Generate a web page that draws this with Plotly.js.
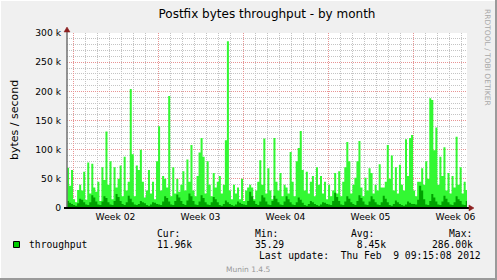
<!DOCTYPE html>
<html><head><meta charset="utf-8">
<script src="https://cdn.plot.ly/plotly-3.0.1.min.js"></script>
<style>html,body{margin:0;padding:0;background:#F0F0F0}#chart{width:497px;height:280px}</style>
</head><body><div id="chart"></div>
<script>
const chartTitle = 'Postfix bytes throughput - by month';
const yAxisTitle = 'bytes / second';
const weekStarts = [0, 7, 14, 21, 28];
const weekLabelPos = [3.5, 10.5, 17.5, 24.5, 31.5];
const weekLabels = ['Week 02', 'Week 03', 'Week 04', 'Week 05', 'Week 06'];
const yTickVals = [0, 50000, 100000, 150000, 200000, 250000, 300000];
const yTickText = ['0', '50 k', '100 k', '150 k', '200 k', '250 k', '300 k'];
const xRange = [-0.494, 32.446];
const sampleStart = -0.494;
const sampleStepDays = 1 / 6;
// peak throughput per 4-hour sample, in k bytes/s
const maxK = [
 69, 38, 65, 15, 10, 31,
 40, 30, 62, 14, 78, 25,
 76, 35, 28, 45, 12, 70,
 48, 131, 40, 80, 15, 70,
 35, 50, 73, 20, 88, 30,
 45, 204, 92, 20, 73, 65,
 100, 45, 18, 30, 65, 25,
 45, 15, 80, 140, 30, 55,
 50, 35, 192, 20, 70, 25,
 50, 28, 40, 63, 30, 83,
 45, 108, 30, 20, 55, 95,
 120, 88, 25, 80, 40, 20,
 60, 35, 45, 55, 25, 40,
 116, 286, 30, 15, 40, 25,
 35, 15, 50, 12, 30, 35,
 40, 35, 15, 30, 45, 82,
 40, 119, 25, 68, 30, 15,
 120, 45, 30, 60, 20, 40,
 35, 25, 96, 45, 20, 80,
 103, 132, 65, 30, 62, 25,
 45, 55, 20, 70, 40, 55,
 25, 45, 15, 40, 20, 30,
 60, 25, 63, 20, 45, 70,
 113, 80, 25, 40, 52, 80,
 115, 35, 20, 52, 30, 68,
 60, 25, 40, 30, 75, 35,
 35, 45, 108, 50, 90, 30,
 70, 25, 74, 40, 30, 118,
 55, 120, 125, 30, 20, 45,
 45, 68, 40, 80, 50, 188,
 185, 99, 138, 40, 88, 55,
 104, 30, 60, 25, 55, 35,
 122, 40, 70, 25, 45, 31
];
// average throughput per 4-hour sample, in k bytes/s
const avgK = [
 12, 9, 7,
 5, 4, 8, 16, 14, 10,
 6, 5, 10, 22, 18, 11,
 6, 5, 11, 20, 17, 10,
 6, 5, 12, 24, 19, 12,
 7, 5, 10, 21, 16, 10,
 6, 5, 7, 12, 10, 8,
 5, 4, 6, 10, 9, 7,
 6, 5, 11, 20, 17, 11,
 6, 5, 12, 23, 18, 12,
 7, 5, 13, 25, 20, 12,
 6, 5, 11, 22, 17, 10,
 6, 5, 10, 19, 15, 10,
 5, 4, 7, 13, 10, 7,
 5, 4, 6, 11, 9, 7,
 6, 5, 12, 28, 20, 12,
 7, 5, 11, 22, 18, 11,
 6, 5, 12, 21, 16, 10,
 6, 5, 11, 20, 15, 10,
 6, 5, 10, 18, 14, 9,
 5, 4, 7, 12, 10, 7,
 5, 4, 6, 10, 9, 7,
 6, 5, 12, 26, 19, 12,
 6, 5, 11, 20, 16, 10,
 7, 5, 12, 22, 17, 11,
 6, 5, 11, 20, 15, 10,
 6, 5, 10, 21, 16, 10,
 5, 4, 7, 13, 10, 7,
 5, 4, 6, 11, 9, 7,
 7, 6, 14, 38, 30, 15,
 6, 5, 12, 24, 18, 11,
 6, 5, 11, 21, 16, 10,
 6, 5, 10, 20, 15, 12,
 6, 5, 12
];
const legendSeries = 'throughput';
const statHeaders = ['Cur:', 'Min:', 'Avg:', 'Max:'];
const statValues = ['11.96k', '35.29', ' 8.45k', '286.00k'];
const lastUpdate = 'Last update:  Thu Feb  9 09:15:08 2012';
const footer = 'Munin 1.4.5';
const sideText = 'RRDTOOL / TOBI OETIKER';

// ---- layout geometry (pixels) ----
const W = 497, H = 280, L = 67, R = 467, T = 33, B = 208;
const X = p => (p - L) / (R - L);
const Y = p => (B - p) / (B - T);
const nb = s => s.replace(/ /g, '\u00A0');

function stepSeries(valsK) {
  const x = [], y = [];
  for (let i = 0; i <= valsK.length; i++) {
    x.push(sampleStart + i * sampleStepDays);
    y.push(valsK[Math.min(i, valsK.length - 1)] * 1000);
  }
  return {x, y};
}
const mx = stepSeries(maxK), av = stepSeries(avgK);

const traces = [
  {x: mx.x, y: mx.y, type: 'scatter', mode: 'lines', line: {shape: 'hv', width: 0, color: '#33F833'},
   fill: 'tozeroy', fillcolor: '#33F833', xaxis: 'x', yaxis: 'y', hoverinfo: 'skip'},
  {x: av.x, y: av.y, type: 'scatter', mode: 'lines', line: {shape: 'hv', width: 0, color: '#00A000'},
   fill: 'tozeroy', fillcolor: '#00A000', xaxis: 'x2', yaxis: 'y', hoverinfo: 'skip'}
];

const sans = 'DejaVu Sans', mono = 'DejaVu Sans Mono';
const ann = [];
const hdrX = [155, 252.7, 349.3, 447.3];
const valX = [155, 253, 349, 430];
statHeaders.forEach((h, k) => ann.push({text: nb(h), x: X(hdrX[k]), y: Y(233.3), xref: 'paper', yref: 'paper',
  xanchor: 'left', yanchor: 'middle', showarrow: false, font: {family: mono, size: 9.7, color: '#000'}}));
statValues.forEach((v, k) => ann.push({text: nb(v), x: X(valX[k]), y: Y(244.3), xref: 'paper', yref: 'paper',
  xanchor: 'left', yanchor: 'middle', showarrow: false, font: {family: mono, size: 9.7, color: '#000'}}));
ann.push({text: nb(legendSeries), x: X(26.7), y: Y(244.3), xref: 'paper', yref: 'paper', xanchor: 'left', yanchor: 'middle',
  showarrow: false, font: {family: mono, size: 9.7, color: '#000'}});
ann.push({text: nb(lastUpdate), x: X(483), y: Y(255.7), xref: 'paper', yref: 'paper', xanchor: 'right', yanchor: 'middle',
  showarrow: false, font: {family: mono, size: 9.7, color: '#000'}});
ann.push({text: footer, x: X(248.3), y: Y(269.3), xref: 'paper', yref: 'paper', xanchor: 'center', yanchor: 'middle',
  showarrow: false, font: {family: sans, size: 7.5, color: '#999999'}});
ann.push({text: sideText, x: X(488), y: Y(57), xref: 'paper', yref: 'paper', xanchor: 'center', yanchor: 'middle',
  textangle: 90, showarrow: false, font: {family: sans, size: 7.5, color: '#A8A8A8'}});
ann.push({text: yAxisTitle, x: X(14), y: Y(120), xref: 'paper', yref: 'paper', xanchor: 'center', yanchor: 'middle',
  textangle: -90, showarrow: false, font: {family: sans, size: 11, color: '#000'}});

const shapes = [
  {type: 'line', xref: 'paper', yref: 'paper', x0: X(0), x1: X(W), y0: Y(0.5), y1: Y(0.5), line: {color: '#FFFFFF', width: 1}},
  {type: 'line', xref: 'paper', yref: 'paper', x0: X(0.5), x1: X(0.5), y0: Y(0), y1: Y(H), line: {color: '#FFFFFF', width: 1}},
  {type: 'line', xref: 'paper', yref: 'paper', x0: X(W - 1), x1: X(W - 1), y0: Y(0), y1: Y(H), line: {color: '#9A9A9A', width: 2}},
  {type: 'line', xref: 'paper', yref: 'paper', x0: X(0), x1: X(W), y0: Y(H - 1), y1: Y(H - 1), line: {color: '#9A9A9A', width: 2}},
  {type: 'line', xref: 'paper', yref: 'paper', x0: X(67), x1: X(67), y0: Y(208), y1: Y(31), line: {color: '#707070', width: 1.5}},
  {type: 'line', xref: 'paper', yref: 'paper', x0: X(64), x1: X(470), y0: Y(208), y1: Y(208), line: {color: '#000000', width: 2}},
  {type: 'path', xref: 'paper', yref: 'paper', path: `M ${X(64)} ${Y(32)} L ${X(70)} ${Y(32)} L ${X(67)} ${Y(27)} Z`,
   fillcolor: '#8C2020', line: {color: '#8C2020', width: 0.5}},
  {type: 'path', xref: 'paper', yref: 'paper', path: `M ${X(469)} ${Y(205)} L ${X(469)} ${Y(211)} L ${X(474)} ${Y(208)} Z`,
   fillcolor: '#8C2020', line: {color: '#8C2020', width: 0.5}},
  {type: 'rect', xref: 'paper', yref: 'paper', x0: X(13.5), x1: X(19.5), y0: Y(247.5), y1: Y(241.5),
   fillcolor: '#00CC00', line: {color: '#000000', width: 1}}
];

const gridDash = '1px,1px';
const layout = {
  width: W, height: H,
  margin: {l: L, r: W - R, t: T, b: H - B, pad: 0},
  paper_bgcolor: '#F0F0F0', plot_bgcolor: '#FFFFFF',
  showlegend: false, hovermode: false,
  title: {text: chartTitle, x: X(267), xref: 'paper', xanchor: 'center', y: 1 - 13.5 / H, yref: 'container', yanchor: 'middle',
          font: {family: sans, size: 12, color: '#000'}},
  xaxis: {range: xRange, tickmode: 'array', tickvals: weekStarts, showticklabels: false, ticks: '',
          showgrid: true, gridcolor: '#E89494', griddash: gridDash, gridwidth: 1, zeroline: false, showline: false,
          minor: {tickmode: 'linear', tick0: 0, dtick: 1, showgrid: true, gridcolor: '#C4C4C4', griddash: gridDash, gridwidth: 1, ticks: ''}},
  xaxis2: {range: xRange, overlaying: 'x', side: 'bottom', tickmode: 'array', tickvals: weekLabelPos, ticktext: weekLabels,
           showgrid: false, zeroline: false, showline: false, ticks: '', ticklabelstandoff: 2,
           tickfont: {family: sans, size: 9.2, color: '#000'}},
  yaxis: {range: [0, 300000], tickmode: 'array', tickvals: yTickVals, ticktext: yTickText,
          showgrid: true, gridcolor: '#E89494', griddash: gridDash, gridwidth: 1, zeroline: false, showline: false,
          ticks: '', ticklabelstandoff: 5, tickfont: {family: sans, size: 9.2, color: '#000'},
          minor: {tickmode: 'linear', tick0: 0, dtick: 10000, showgrid: true, gridcolor: '#C4C4C4', griddash: gridDash, gridwidth: 1,
                  ticks: ''}},
  annotations: ann,
  shapes: shapes
};

Plotly.newPlot('chart', traces, layout, {staticPlot: true, displayModeBar: false});
</script>
</body></html>
